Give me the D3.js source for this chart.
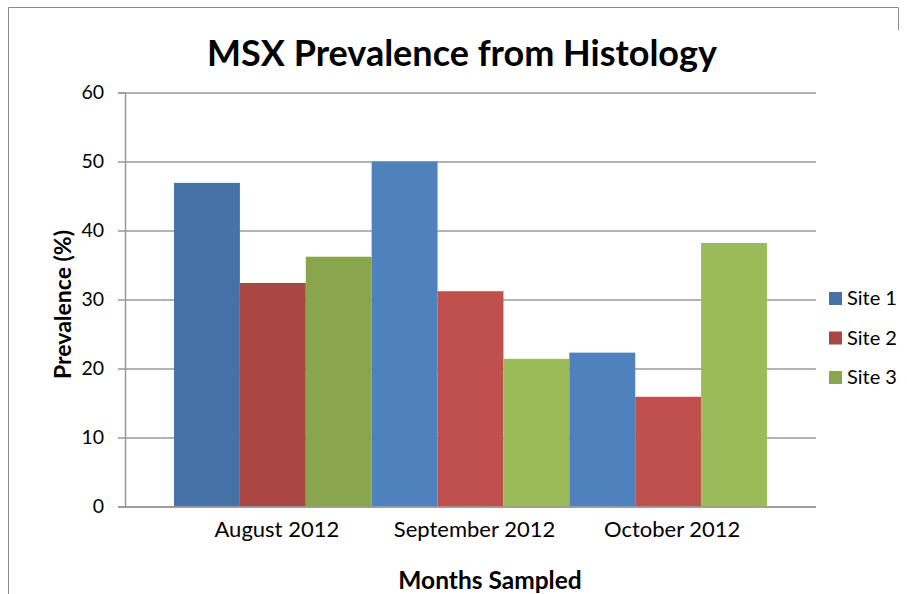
<!DOCTYPE html>
<html>
<head>
<meta charset="utf-8">
<script src="https://cdn.jsdelivr.net/npm/d3@7"></script>
<style>
  html, body { margin: 0; padding: 0; background: #fff; }
  svg { display: block; font-family: Lato, "Liberation Sans", sans-serif; }
</style>
</head>
<body>
<svg id="chart" width="907" height="594"></svg>
<script>
const months = ["August 2012", "September 2012", "October 2012"];
const sites = ["Site 1", "Site 2", "Site 3"];
const site1 = [46.9, 50.0, 22.3];
const site2 = [32.4, 31.2, 15.9];
const site3 = [36.2, 21.4, 38.2];
const yTicks = [0, 10, 20, 30, 40, 50, 60];
const seriesColors = ["#4F81BD", "#C0504D", "#9BBB59"];
const firstMonthColors = ["#4672A8", "#AA4644", "#89A54E"];
const title = "MSX Prevalence from Histology";
const xTitle = "Months Sampled";
const yTitle = "Prevalence (%)";

const values = [site1, site2, site3];
const svg = d3.select("#chart");

const plotLeft = 125, plotRight = 816, plotTop = 92.5, plotBottom = 506.5;

// chart border (top and left edges visible in the crop)
svg.append("path")
  .attr("d", "M8.5,600V7.5H898.5V30")
  .attr("fill", "none").attr("stroke", "#8a8a8a").attr("stroke-width", 1);

const y = d3.scaleLinear().domain([0, 60]).range([plotBottom, plotTop]);
const x0 = d3.scaleBand().domain(months).range([plotLeft, plotRight]).paddingInner(0).paddingOuter(0.248);
const x1 = d3.scaleBand().domain(sites).range([0, x0.bandwidth()]).padding(0);

// gridlines
const grid = svg.append("g").attr("transform", `translate(${plotLeft},0)`)
  .call(d3.axisLeft(y).tickValues(yTicks).tickSize(-(plotRight - plotLeft)).tickFormat(""));
grid.select(".domain").remove();
grid.selectAll("line").attr("stroke", "#999").attr("stroke-width", 1.5);

// bars
const rows = [];
months.forEach((m, i) => sites.forEach((s, j) => rows.push({ m, s, i, j, v: values[j][i] })));
svg.append("g").selectAll("rect").data(rows).join("rect")
  .attr("x", d => x0(d.m) + x1(d.s))
  .attr("y", d => y(d.v))
  .attr("width", x1.bandwidth())
  .attr("height", d => y(0) - y(d.v))
  .attr("fill", d => d.i === 0 ? firstMonthColors[d.j] : seriesColors[d.j]);

// y axis
const yAxis = svg.append("g").attr("transform", `translate(${plotLeft},0)`)
  .call(d3.axisLeft(y).tickValues(yTicks).tickSize(7).tickPadding(14));
yAxis.select(".domain").attr("stroke", "#999").attr("stroke-width", 1.5);
yAxis.selectAll("line").attr("stroke", "#999").attr("stroke-width", 1.5);
yAxis.selectAll("text").attr("font-size", 19.5).attr("fill", "#000")
  .attr("font-family", "Lato, sans-serif");

// x axis baseline
const xAxis = svg.append("g").attr("transform", `translate(0,${plotBottom})`)
  .call(d3.axisBottom(x0).tickSize(0).tickPadding(0));
xAxis.select(".domain").attr("d", `M${plotLeft - 7},0.5H${plotRight}`).attr("stroke", "#999").attr("stroke-width", 1.5);
xAxis.selectAll(".tick text")
  .attr("dy", null).attr("y", 30.5).attr("x", 4)
  .attr("font-size", 22).attr("fill", "#000").attr("font-family", "Lato, sans-serif");

// title
svg.append("text").attr("x", 462).attr("y", 66).attr("text-anchor", "middle")
  .attr("font-size", 36).attr("font-weight", "bold").attr("fill", "#000").text(title);

// x title
svg.append("text").attr("x", 490).attr("y", 589).attr("text-anchor", "middle")
  .attr("font-size", 24.5).attr("font-weight", "bold").attr("fill", "#000").text(xTitle);

// y title
svg.append("text").attr("transform", "translate(71,304.5) rotate(-90)").attr("text-anchor", "middle")
  .attr("font-size", 23).attr("font-weight", "bold").attr("fill", "#000").text(yTitle);

// legend
const legend = svg.append("g").selectAll("g").data(sites).join("g")
  .attr("transform", (d, i) => `translate(829,${292 + i * 39.5})`);
legend.append("rect").attr("width", 13).attr("height", 13)
  .attr("fill", (d, i) => firstMonthColors[i]);
legend.append("text").attr("x", 18).attr("y", 13).attr("font-size", 20).attr("fill", "#000").text(d => d);
</script>
</body>
</html>
